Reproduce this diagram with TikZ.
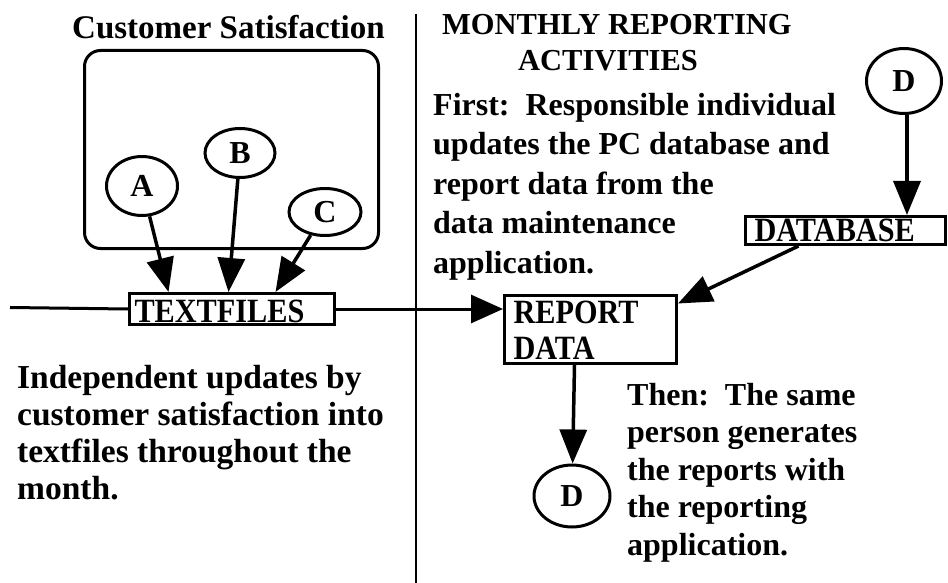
\documentclass[tikz,border=0pt]{standalone}
\usepackage{fontspec}
\setmainfont{Liberation Serif}
% narrower face for the boxed labels
\newfontfamily\lblfont[FakeStretch=0.89]{Liberation Serif}
\usetikzlibrary{arrows.meta,shapes.geometric}

\begin{document}
\begin{tikzpicture}[x=1pt,y=-1pt,
  txt/.style={font=\fontsize{32}{37}\selectfont\bfseries, inner sep=0pt, align=left, anchor=base west},
  lbl/.style={draw, line width=3pt, inner ysep=0pt, align=left, anchor=north west,
              font=\fontsize{34}{36}\selectfont\lblfont\bfseries},
  bubble/.style={draw, ellipse, line width=3pt, inner sep=0pt,
                 font=\fontsize{32}{34}\selectfont\bfseries},
  conn/.style={line width=3.5pt, -{Triangle[length=34pt,width=27pt]}},
  rule/.style={line width=3pt}
]
\useasboundingbox (0,0) rectangle (948,583);

% column divider
\coordinate (top) at (416,14);
\coordinate (bot) at (416,583);
\draw[line width=2.2pt] (top) -- (bot);

% left column: customer satisfaction group
\node[txt, font=\fontsize{33}{37}\selectfont\bfseries] (cstitle) at (72,39) {Customer Satisfaction};
\node[draw, line width=3pt, rounded corners=16pt, minimum width=294pt,
      minimum height=198pt] (cs) at (231.5,149.5) {};

\node[bubble, minimum width=71pt, minimum height=59pt] (A) at (142,186) {A};
\node[bubble, minimum width=70pt, minimum height=49pt] (B) at (240,153) {B};
\node[bubble, minimum width=72pt, minimum height=47pt] (C) at (325,212) {C};

\node[lbl, inner xsep=5pt, text width=195pt, text height=29pt, text depth=2pt]
  (tf) at (128,292) {TEXTFILES};

% multi-line texts are placed by the baseline of their last line
\node[txt, font=\fontsize{33.5}{37}\selectfont\bfseries] (left) at (17,499)
  {Independent updates by\\customer satisfaction into\\textfiles throughout the\\month.};

% right column: monthly reporting
\node[txt, font=\fontsize{30.5}{36}\selectfont\bfseries] (head) at (442,71)
  {MONTHLY REPORTING\\\hspace*{76pt}ACTIVITIES};
\node[txt, font=\fontsize{32}{39.5}\selectfont\bfseries] (first) at (433,273)
  {First:\ \ Responsible individual\\updates the PC database and\\report data from the\\data maintenance\\application.};

\node[bubble, minimum width=75pt, minimum height=65pt] (Dt) at (904,81) {D};
\node[lbl, inner xsep=9pt, text width=182pt, text height=25pt, text depth=3pt]
  (db) at (744,215) {DATABASE};
\node[lbl, inner xsep=9pt, text width=154pt, text height=28pt, text depth=40pt]
  (rd) at (503,294) {REPORT\\DATA};
\node[bubble, minimum width=76pt, minimum height=62pt] (Db) at (572,496) {D};

\node[txt, font=\fontsize{32}{37.5}\selectfont\bfseries] (then) at (627,555)
  {Then:\ \ The same\\person generates\\the reports with\\the reporting\\application.};

% flow lines
\coordinate (lineL) at (10,307.5);
\draw[rule] (lineL) -- (tf.west);
\draw[rule, -{Triangle[length=32pt,width=28pt]}] (tf.east) -- (rd.west |- tf.east);
\draw[conn] (A) -- ([xshift=-63.5pt]tf.north);
\draw[conn] (B) -- ([xshift=-3.5pt]tf.north);
\draw[conn] (C) -- ([xshift=43.5pt]tf.north);
\draw[conn] ([xshift=3pt]Dt.south) -- ([xshift=3pt]Dt.south |- db.north);
\draw[conn] ([xshift=-47pt]db.south) -- ([yshift=26pt]rd.east);
\draw[conn] ([xshift=-16pt]rd.south) -- (Db);
\end{tikzpicture}
\end{document}
